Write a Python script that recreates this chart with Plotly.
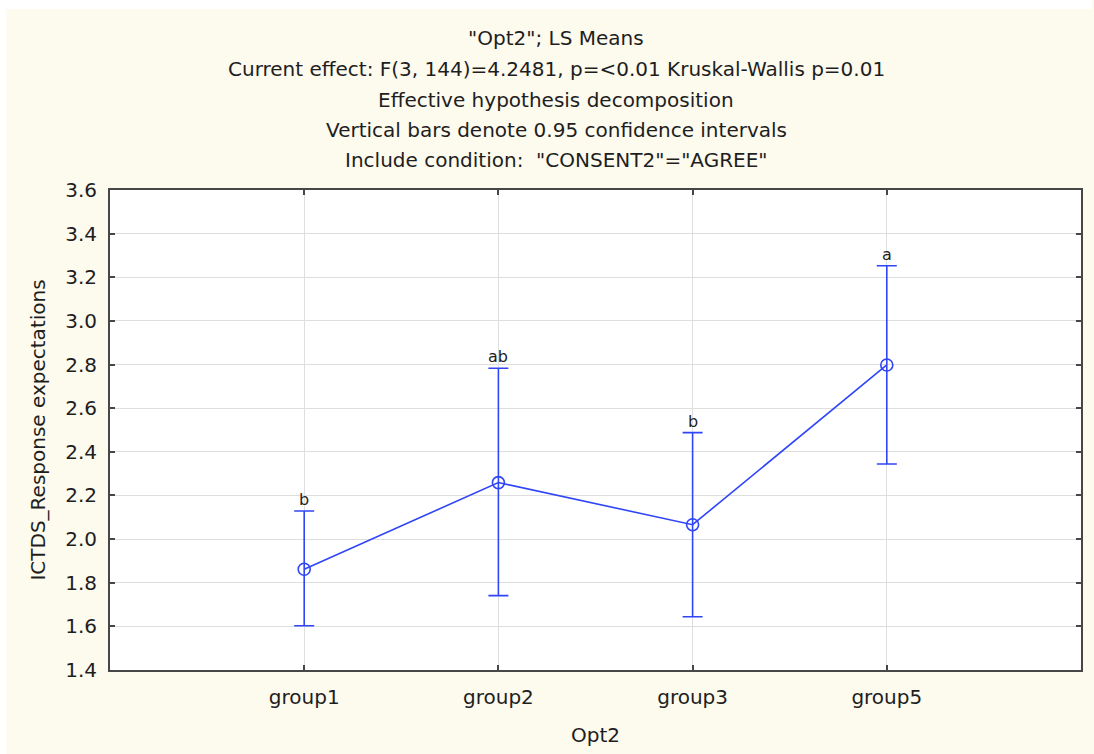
import plotly.graph_objects as go

# LS means with 0.95 confidence limits per Opt2 group
groups = ["group1", "group2", "group3", "group5"]
means = [1.862, 2.259, 2.066, 2.798]
upper = [2.129, 2.783, 2.488, 3.253]
lower = [1.603, 1.741, 1.644, 2.344]
letters = ["b", "ab", "b", "a"]

y_ticks = [1.4, 1.6, 1.8, 2.0, 2.2, 2.4, 2.6, 2.8, 3.0, 3.2, 3.4, 3.6]

title_lines = [
    '"Opt2"; LS Means',
    "Current effect: F(3, 144)=4.2481, p=<0.01 Kruskal-Wallis p=0.01",
    "Effective hypothesis decomposition",
    "Vertical bars denote 0.95 confidence intervals",
    'Include condition:  "CONSENT2"="AGREE"',
]

BLUE = "#2F45F7"
FONT = "DejaVu Sans"
TXT = "#1e1e1e"
FRAME = "#474747"

W, H = 1094, 754
ML, MR, MT, MB = 110, 11, 190, 84
PW, PH = W - ML - MR, H - MT - MB

err_plus = [u - m for u, m in zip(upper, means)]
err_minus = [m - l for m, l in zip(means, lower)]

fig = go.Figure()
fig.add_trace(go.Scatter(
    x=groups,
    y=means,
    mode="lines+markers",
    line=dict(color=BLUE, width=1.6),
    marker=dict(symbol="circle-open", size=12, color=BLUE, line=dict(width=1.6, color=BLUE)),
    error_y=dict(
        type="data",
        symmetric=False,
        array=err_plus,
        arrayminus=err_minus,
        color=BLUE,
        thickness=1.6,
        width=10,
    ),
    showlegend=False,
))

# significance letters above the upper confidence limits
for g, u, lab in zip(groups, upper, letters):
    fig.add_annotation(
        x=g, y=u, text=lab, showarrow=False,
        xref="x", yref="y", yanchor="bottom", yshift=0,
        font=dict(family=FONT, size=16, color=TXT),
    )

# stacked title lines
title_y_px = [38, 69, 100, 130, 160]
for line, ypx in zip(title_lines, title_y_px):
    fig.add_annotation(
        x=(557 - ML) / PW, y=(MT + PH - ypx) / PH,
        xref="paper", yref="paper",
        text=line, showarrow=False,
        xanchor="center", yanchor="middle",
        font=dict(family=FONT, size=20, color=TXT),
    )

# thin white border strips around the cream backdrop
fig.add_shape(type="rect", xref="paper", yref="paper",
              x0=-ML / PW, x1=(W - ML) / PW,
              y0=(MT + PH - 9) / PH, y1=(MT + PH) / PH,
              fillcolor="white", line=dict(width=0), layer="below")
fig.add_shape(type="rect", xref="paper", yref="paper",
              x0=-ML / PW, x1=(6 - ML) / PW,
              y0=-MB / PH, y1=(MT + PH) / PH,
              fillcolor="white", line=dict(width=0), layer="below")

axis_common = dict(
    showline=True, linecolor=FRAME, linewidth=2, mirror="ticks",
    ticks="inside", ticklen=5, tickwidth=1.5, tickcolor=FRAME,
    showgrid=True, gridcolor="#dedede", gridwidth=1,
    zeroline=False,
    tickfont=dict(family=FONT, size=20, color=TXT),
)

fig.update_xaxes(
    **axis_common,
    type="category",
    categoryorder="array", categoryarray=groups,
    range=[-1, 4],
    ticklabelstandoff=8,
    title=dict(text="Opt2", font=dict(family=FONT, size=20, color=TXT), standoff=20),
)
fig.update_yaxes(
    **axis_common,
    range=[1.4, 3.6],
    tickvals=y_ticks,
    ticktext=[f"{v:.1f}" for v in y_ticks],
    ticklabelstandoff=7,
    title=dict(text="ICTDS_Response expectations", font=dict(family=FONT, size=20, color=TXT), standoff=14),
)

fig.update_layout(
    width=W, height=H,
    margin=dict(l=ML, r=MR, t=MT, b=MB, pad=0),
    paper_bgcolor="#FDFAEE",
    plot_bgcolor="white",
    font=dict(family=FONT, color=TXT),
)

fig.write_html("out.html")
